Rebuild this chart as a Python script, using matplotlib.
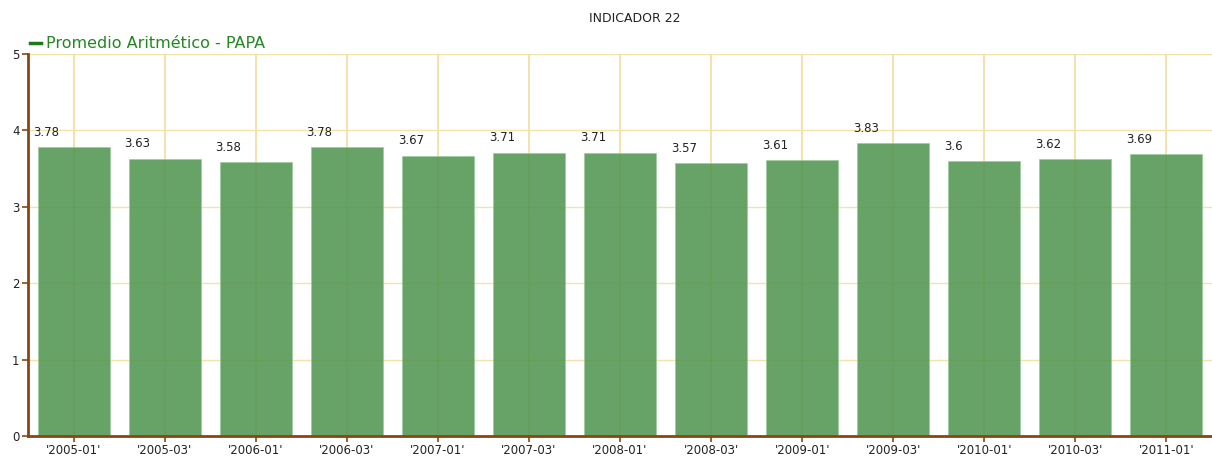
import matplotlib
matplotlib.use("Agg")
import matplotlib.pyplot as plt
from matplotlib.lines import Line2D

categories = ["'2005-01'", "'2005-03'", "'2006-01'", "'2006-03'", "'2007-01'", "'2007-03'",
              "'2008-01'", "'2008-03'", "'2009-01'", "'2009-03'", "'2010-01'", "'2010-03'", "'2011-01'"]
values = [3.78, 3.63, 3.58, 3.78, 3.67, 3.71, 3.71, 3.57, 3.61, 3.83, 3.6, 3.62, 3.69]
labels = ["3.78", "3.63", "3.58", "3.78", "3.67", "3.71", "3.71", "3.57", "3.61", "3.83", "3.6", "3.62", "3.69"]
yticks = [0, 1, 2, 3, 4, 5]

fig = plt.figure(figsize=(12.12, 4.57), dpi=100)
ax = fig.add_axes([28/1212, 1-436/457, 1-28/1212, (436-54)/457])

x = list(range(len(categories)))
width = 0.79
for xi in x:
    ax.axvline(xi, color="#f3dc9c", lw=1.2, zorder=1)
for yi in yticks[1:]:
    ax.axhline(yi, color="#f5e2a8", lw=1.0, zorder=1)
bars = ax.bar(x, values, width=width, color="#4e944e", alpha=0.86, edgecolor="#9ccb9c",
              linewidth=0.6, zorder=2)

for xi, v, lab in zip(x, values, labels):
    ax.annotate(lab, (xi - width/2, v), xytext=(-3, 6), textcoords="offset points",
                ha="left", va="bottom", fontsize=8.5, color="#222222", zorder=4)

ax.set_xlim(-0.5, len(categories) - 0.5)
ax.set_ylim(0, 5)
ax.set_xticks(x)
ax.set_xticklabels(categories, fontsize=8.5, color="#222222")
ax.set_yticks(yticks)
ax.set_yticklabels([str(t) for t in yticks], fontsize=8.5, color="#222222")
ax.tick_params(axis="both", color="#8b4513", length=4, width=1.2, pad=2)

for s in ["top", "right"]:
    ax.spines[s].set_visible(False)
for s in ["left", "bottom"]:
    ax.spines[s].set_color("#8b4513")
    ax.spines[s].set_linewidth(2)
    ax.spines[s].set_zorder(5)

fig.text(635/1212, 1-18/457, "INDICADOR 22", ha="center", va="center", fontsize=9, color="#222222")
fig.add_artist(Line2D([30/1212, 41/1212], [1-43/457, 1-43/457], color="#1a7a1a", lw=2.5,
                      transform=fig.transFigure))
fig.text(46/1212, 1-43/457, "Promedio Aritmético - PAPA", ha="left", va="center", fontsize=11.5, color="#228822")

fig.savefig("out.png", dpi=100, facecolor="white")
